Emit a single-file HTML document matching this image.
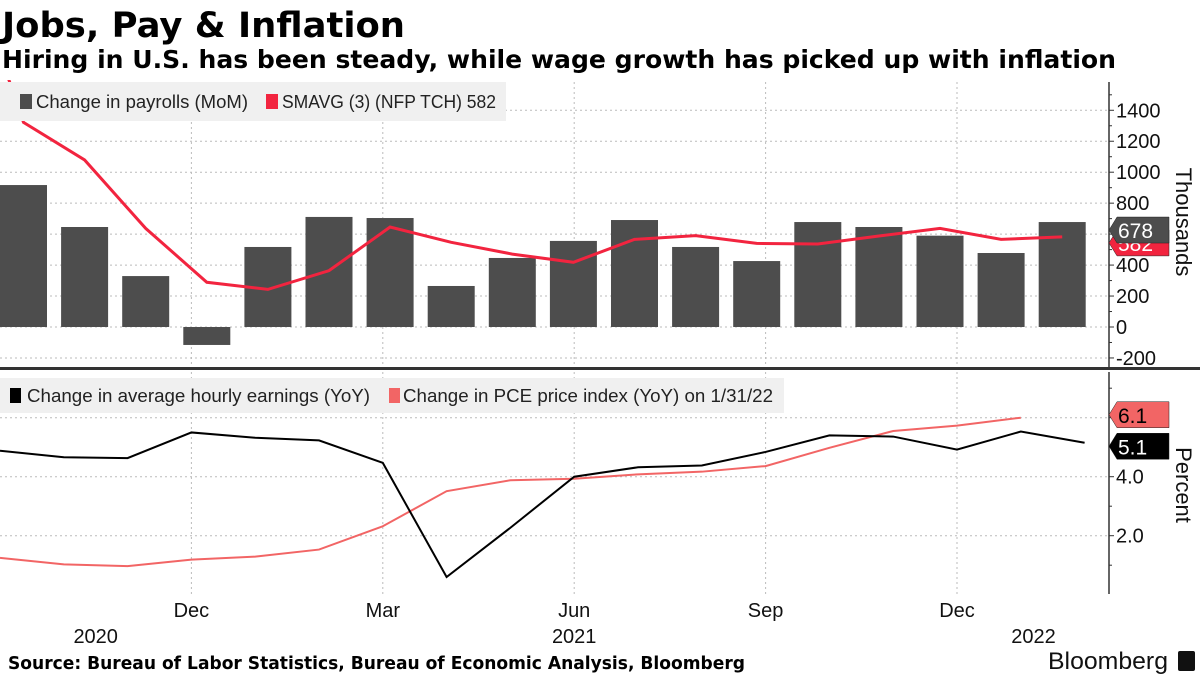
<!DOCTYPE html>
<html><head><meta charset="utf-8"><style>
body{margin:0;background:#fff;}
svg text{font-family:"Liberation Sans",sans-serif;}
</style></head><body>
<svg id="c" width="1200" height="675" xmlns="http://www.w3.org/2000/svg">
<text x="2" y="37" font-weight="bold" font-size="35" textLength="403" lengthAdjust="spacingAndGlyphs" style="font-family:'DejaVu Sans',sans-serif">Jobs, Pay &amp; Inflation</text>
<text x="2" y="68" font-weight="bold" font-size="25" textLength="1114" lengthAdjust="spacingAndGlyphs" style="font-family:'DejaVu Sans',sans-serif">Hiring in U.S. has been steady, while wage growth has picked up with inflation</text>
<g id="grid"></g>
<g id="marks"></g>
<rect x="0" y="82" width="506" height="39" fill="#f0f0f0"/>
<rect x="20" y="94" width="12" height="15" fill="#4d4d4d"/>
<text x="36" y="108" font-size="18" fill="#222" textLength="212" lengthAdjust="spacingAndGlyphs">Change in payrolls (MoM)</text>
<rect x="266" y="94" width="12" height="15" fill="#f2243f"/>
<text x="282" y="108" font-size="18" fill="#222" textLength="214" lengthAdjust="spacingAndGlyphs">SMAVG (3) (NFP TCH) 582</text>
<rect x="0" y="378" width="784" height="35" fill="#f0f0f0"/>
<rect x="10" y="388" width="11" height="15" fill="#000"/>
<text x="27" y="402" font-size="18" fill="#222" textLength="343" lengthAdjust="spacingAndGlyphs">Change in average hourly earnings (YoY)</text>
<rect x="389" y="388" width="11" height="15" fill="#f26565"/>
<text x="403" y="402" font-size="18" fill="#222" textLength="370" lengthAdjust="spacingAndGlyphs">Change in PCE price index (YoY) on 1/31/22</text>
<rect x="0" y="367" width="1200" height="3" fill="#333"/>
<g id="axes"></g>
<text x="8" y="669" font-size="18" font-weight="bold" textLength="737" lengthAdjust="spacingAndGlyphs" style="font-family:'DejaVu Sans',sans-serif">Source: Bureau of Labor Statistics, Bureau of Economic Analysis, Bloomberg</text>
<text x="1048" y="669" font-size="24" fill="#111" textLength="120" lengthAdjust="spacingAndGlyphs">Bloomberg</text>
<rect x="1178" y="651" width="17" height="20" rx="2" fill="#111"/>
</svg>
<script>
const payrolls=[917,646,329,-116,517,711,704,265,446,556,691,517,426,678,646,590,478,678];
const smavg=[2470,1322,1079,637,289,243,364,646,547,471,418,566,590,540,536,588,637,566,582];
const earnings=[4.88,4.66,4.63,5.5,5.32,5.23,4.47,0.6,2.27,4.0,4.32,4.38,4.84,5.4,5.36,4.92,5.53,5.15];
const pce=[1.25,1.03,0.97,1.19,1.29,1.53,2.32,3.51,3.88,3.93,4.08,4.17,4.36,4.98,5.55,5.73,6.0];
const topTicks=[1400,1200,1000,800,600,400,200,0,-200];
const botTicks=[4.0,2.0];
const monthTicks=[{i:3,l:"Dec"},{i:6,l:"Mar"},{i:9,l:"Jun"},{i:12,l:"Sep"},{i:15,l:"Dec"}];
const yearLabels=[{i:1.5,l:"2020"},{i:9,l:"2021"},{i:16.2,l:"2022"}];
const NS="http://www.w3.org/2000/svg";
function mk(t,a,p){const e=document.createElementNS(NS,t);for(const k in a)e.setAttribute(k,a[k]);document.getElementById(p).appendChild(e);return e;}
const yTop=v=>327-v*0.1548;
const yBot=v=>476.7-(v-4)*29.5;
const xBar=i=>23.5+i*61.1;
const xMon=i=>i*63.8;
const AX=1109;
topTicks.forEach(v=>{const e=mk('line',{x1:0,x2:AX,y1:yTop(v),y2:yTop(v),stroke:'#bbb','stroke-dasharray':'2,3'},'grid');});
[6,4,2].forEach(v=>{const e=mk('line',{x1:0,x2:AX,y1:yBot(v),y2:yBot(v),stroke:'#bbb','stroke-dasharray':'2,3'},'grid');});
monthTicks.forEach(m=>{const e=mk('line',{x1:xMon(m.i),x2:xMon(m.i),y1:82,y2:596,stroke:'#bbb','stroke-dasharray':'2,3'},'grid');});
payrolls.forEach((v,i)=>{const y0=yTop(0),y1=yTop(v);const e=mk('rect',{x:xBar(i)-23.5,width:47,y:Math.min(y0,y1),height:Math.abs(y1-y0),fill:'#4d4d4d'},'marks');});
let cp=mk('clipPath',{id:'ct'},'marks');const cr=document.createElementNS(NS,'rect');cr.setAttribute('x',0);cr.setAttribute('y',80);cr.setAttribute('width',AX);cr.setAttribute('height',287);cp.appendChild(cr);
let l=mk('polyline',{points:smavg.map((v,i)=>xBar(i-1)+','+yTop(v)).join(' '),fill:'none',stroke:'#f2243f','stroke-width':3,'clip-path':'url(#ct)'},'marks');

l=mk('polyline',{points:pce.map((v,i)=>xMon(i)+','+yBot(v)).join(' '),fill:'none',stroke:'#f26565','stroke-width':2},'marks');

l=mk('polyline',{points:earnings.map((v,i)=>xMon(i)+','+yBot(v)).join(' '),fill:'none',stroke:'#000','stroke-width':2},'marks');

let a=mk('line',{x1:AX,x2:AX,y1:82,y2:367,stroke:'#333','stroke-width':1.5},'axes');
a=mk('line',{x1:AX,x2:AX,y1:372,y2:594,stroke:'#333','stroke-width':1.5},'axes');
for(let v=-200;v<=1500;v+=100){const e=mk('line',{x1:AX,x2:AX+(v%200==0?5:3),y1:yTop(v),y2:yTop(v),stroke:'#333'},'axes');}
topTicks.forEach(v=>{const t=mk('text',{x:1116,y:yTop(v)+7,'font-size':20,fill:'#111'},'axes');t.textContent=v;});
for(let v=1;v<=7;v+=1){const e=mk('line',{x1:AX,x2:AX+(v%2==0?5:3),y1:yBot(v),y2:yBot(v),stroke:'#333'},'axes');}
botTicks.forEach(v=>{const t=mk('text',{x:1116,y:yBot(v)+7,'font-size':20,fill:'#111'},'axes');t.textContent=v.toFixed(1);});
monthTicks.forEach(m=>{const t=mk('text',{x:xMon(m.i),y:617,'font-size':20,'text-anchor':'middle',fill:'#111'},'axes');t.textContent=m.l;});
yearLabels.forEach(m=>{const t=mk('text',{x:xMon(m.i),y:643,'font-size':20,'text-anchor':'middle',fill:'#111'},'axes');t.textContent=m.l;});
function tag(v,y,fill,fg,name){const g=mk('g',{},'axes');
const p=document.createElementNS(NS,'path');p.setAttribute('d',`M${AX},${y} L${AX+8},${y-13} H1169 V${y+13} H${AX+8} Z`);p.setAttribute('fill',fill);p.setAttribute('stroke','#222');p.setAttribute('stroke-width','0.5');g.appendChild(p);
const t=document.createElementNS(NS,'text');t.setAttribute('x',1118);t.setAttribute('y',y+8);t.setAttribute('font-size',21);t.setAttribute('fill',fg);t.textContent=v;g.appendChild(t);}
tag(smavg[smavg.length-1],yTop(582)+6,'#f2243f','#fff','smavg-value-tag');
tag(payrolls[payrolls.length-1],yTop(678)+8,'#4d4d4d','#fff','payroll-value-tag');
tag('6.1',yBot(6.1),'#f26565','#000','pce-value-tag');
tag('5.1',yBot(5.1)+2,'#000','#fff','earnings-value-tag');
let t=mk('text',{x:1176,y:222,'font-size':22,'text-anchor':'middle',transform:'rotate(90 1176 222)',fill:'#111'},'axes');t.textContent='Thousands';
t=mk('text',{x:1176,y:485,'font-size':22,'text-anchor':'middle',transform:'rotate(90 1176 485)',fill:'#111'},'axes');t.textContent='Percent';
</script>
</body></html>
